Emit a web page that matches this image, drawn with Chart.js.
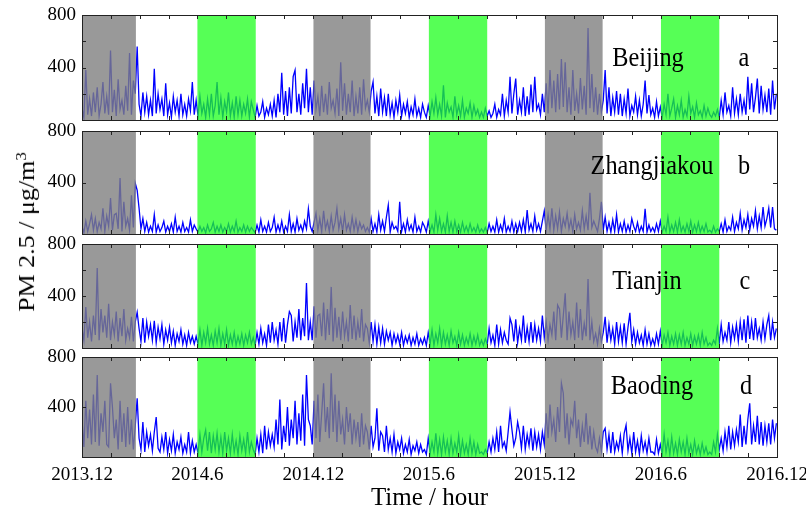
<!doctype html>
<html lang="en">
<head>
<meta charset="utf-8">
<title>PM 2.5</title>
<script src="https://cdn.jsdelivr.net/npm/chart.js@4.4.1/dist/chart.umd.min.js"></script>
<style>
body { margin: 0; background: #fff; }
#wrap { position: relative; width: 806px; height: 511px; overflow: hidden; font-family: 'Liberation Serif', 'Times New Roman', serif; color: #000; }
#wrap canvas { position: absolute; left: 0; top: 0; }
.txt { position: absolute; font-size: 27px; line-height: 1; white-space: nowrap; transform: translate(-50%, -50%) scaleX(0.9); }
#ytitle { position: absolute; left: 27px; top: 232px; font-size: 26px; line-height: 1; white-space: nowrap; transform: translate(-50%, -50%) rotate(-90deg) scaleY(0.88); }
#ytitle sup { font-size: 0.65em; line-height: 0; }
</style>
</head>
<body>
<div id="wrap">
  <canvas id="bj" width="806" height="511"></canvas>
  <canvas id="zjk" width="806" height="511"></canvas>
  <canvas id="tj" width="806" height="511"></canvas>
  <canvas id="bd" width="806" height="511"></canvas>
  <div id="ytitle">PM 2.5 / μg/m<sup>3</sup></div>
  <div class="txt" style="left:648px;top:57px">Beijing</div>
  <div class="txt" style="left:744px;top:57px">a</div>
  <div class="txt" style="left:652px;top:165px">Zhangjiakou</div>
  <div class="txt" style="left:744px;top:165px">b</div>
  <div class="txt" style="left:647px;top:280px">Tianjin</div>
  <div class="txt" style="left:745px;top:280px">c</div>
  <div class="txt" style="left:652px;top:385px">Baoding</div>
  <div class="txt" style="left:746px;top:385px">d</div>
</div>
<script>
// one value every STEP_DAYS days, starting 2013-12-01 (each row = 90 days)
var STEP_DAYS = 3;

var tickDays = [0, 182, 365, 547, 730, 913, 1096];
var tickLabels = ['2013.12', '2014.6', '2014.12', '2015.6', '2015.12', '2016.6', '2016.12'];
var yLabelValues = [400, 800];

// heating seasons (grey) and summers (green), in days
var winterBands = [[0, 85], [365, 455], [730, 821]];
var summerBands = [[182, 274], [547, 639], [913, 1005]];

var bjValues = [
  90,20,380,40,160,30,210,60,250,30,120,290,50,180,40,530,60,230,30,310,80,150,40,260,70,510,40,300,200,560,
  120,30,210,60,180,40,150,30,390,50,200,80,160,30,280,40,130,20,180,60,150,30,200,40,120,30,160,70,290,40,
  150,30,180,50,120,20,160,40,200,30,110,290,40,170,20,140,60,210,30,130,20,180,40,150,30,120,50,160,20,140,
  80,20,110,30,60,140,20,90,40,120,30,150,20,200,60,360,40,220,30,250,50,330,380,60,200,40,280,90,390,60,
  250,40,300,80,180,30,260,60,200,40,290,90,150,50,240,30,440,70,280,40,200,60,300,30,180,50,250,40,310,90,
  150,60,220,290,50,180,30,240,60,170,30,200,40,130,20,150,60,190,30,120,50,140,20,100,40,160,30,90,20,120,
  60,20,110,30,140,50,170,40,120,30,265,20,130,60,100,20,180,40,110,30,150,20,90,50,130,20,110,40,80,20,
  60,20,90,30,70,20,50,120,20,80,40,200,30,150,60,330,50,200,315,40,150,60,250,30,180,40,270,60,330,80,
  120,40,200,60,280,50,380,90,300,60,350,80,465,100,440,60,250,40,380,70,200,50,320,80,260,40,700,90,350,60,
  250,40,200,60,150,380,50,250,30,170,60,220,40,200,30,160,50,240,30,110,60,180,40,150,30,120,300,50,190,40,
  90,20,140,30,100,20,120,40,200,30,90,160,20,110,40,150,20,80,30,180,50,100,20,130,40,70,20,110,30,90,
  40,20,60,30,80,20,150,40,210,60,110,30,250,50,160,40,200,60,150,40,330,80,280,60,170,315,50,260,80,190,
  60,240,40,300,80,200
];
var zjkValues = [
  60,10,100,20,80,150,30,120,20,90,40,200,20,140,60,280,30,150,160,40,435,20,250,60,120,30,300,50,395,340,
  200,40,120,20,90,15,60,20,150,15,70,20,50,100,15,60,20,80,15,130,20,60,15,90,20,50,15,110,20,70,
  40,15,60,20,50,10,70,20,40,90,15,60,20,70,15,50,20,80,15,60,20,100,15,50,20,70,15,60,20,50,
  30,10,70,15,110,20,60,15,90,20,50,130,15,70,20,100,15,60,20,150,20,80,15,120,30,70,20,100,40,195,
  60,20,90,160,30,120,20,180,40,100,20,140,30,90,200,40,120,20,150,30,80,20,130,30,110,20,90,40,70,20,
  50,15,120,20,80,15,150,30,100,20,130,225,15,90,40,60,20,250,20,80,15,110,30,70,15,130,20,60,15,90,
  60,15,100,20,70,15,150,30,120,20,80,15,140,20,90,15,100,20,70,15,90,20,60,15,80,20,50,15,70,15,
  40,15,50,10,80,20,60,15,110,15,70,20,120,15,60,20,100,15,80,20,90,20,110,15,185,30,80,20,140,30,
  80,20,100,180,30,150,40,200,30,140,40,170,20,120,60,160,40,110,20,150,40,90,30,180,40,140,30,320,50,100,
  60,20,120,250,30,130,20,90,15,110,20,150,15,80,20,100,15,70,20,120,60,20,90,15,60,20,195,15,70,20,
  50,15,80,20,100,15,60,20,130,15,70,20,90,15,110,20,60,15,80,20,100,15,70,20,90,15,60,20,80,15,
  30,10,60,15,40,20,80,15,110,20,60,30,130,20,90,40,160,30,110,50,150,30,120,60,180,40,140,50,210,60,
  120,200,50,210,40,30
];
var tjValues = [
  150,60,315,80,200,50,250,100,615,60,300,120,250,80,340,60,200,100,280,50,230,90,300,60,150,80,240,50,200,275,
  150,50,230,40,200,90,180,60,210,40,160,70,180,30,140,60,160,40,130,20,110,50,140,30,100,20,120,40,90,30,
  90,30,140,20,120,40,150,30,100,20,130,40,150,20,110,30,140,20,100,30,120,20,90,30,110,20,100,40,120,30,
  80,20,120,30,150,40,110,20,180,40,200,60,140,30,200,50,230,40,180,280,250,50,200,80,300,60,230,90,500,60,
  200,60,320,80,250,260,90,350,60,300,100,470,50,310,80,240,60,280,90,200,50,330,70,250,60,200,80,300,50,180,
  150,40,200,50,180,30,160,40,150,30,130,60,120,20,110,40,100,30,120,20,90,40,100,20,80,30,110,20,70,30,
  80,20,120,30,140,20,110,40,150,20,120,30,100,20,130,40,90,20,120,30,100,20,80,30,110,20,90,30,100,20,
  60,20,70,30,150,40,100,20,180,30,140,40,120,60,30,230,180,50,220,40,150,60,250,40,160,50,200,40,180,60,
  150,50,250,80,200,60,180,100,280,60,330,300,80,250,420,60,280,100,200,60,350,80,300,60,190,90,530,60,200,50,
  110,30,150,50,120,240,40,180,60,150,30,200,50,160,40,190,30,160,270,50,140,30,120,40,100,20,140,30,110,20,
  70,20,110,30,130,20,100,40,120,20,90,30,110,20,100,30,120,20,80,30,110,20,90,30,100,20,120,30,80,20,
  40,20,60,30,150,40,180,50,120,60,200,40,160,70,180,50,200,60,220,40,250,70,200,60,230,80,150,60,200,70,
  180,250,60,200,80,150
];
var bdValues = [
  300,80,450,150,380,100,500,120,655,90,350,200,450,100,80,590,400,150,300,60,450,120,350,80,400,100,300,60,250,470,
  150,60,280,40,200,90,180,50,200,320,70,40,160,60,200,30,140,50,180,30,120,60,160,30,100,40,200,30,130,40,
  100,30,180,40,150,215,50,200,30,170,60,190,40,160,30,200,50,150,30,180,40,130,20,170,50,140,30,200,40,120,
  60,20,150,40,180,30,250,60,200,90,180,80,300,100,460,60,250,120,400,90,300,150,450,100,350,130,500,90,655,300,
  250,100,450,150,500,120,350,590,200,400,150,670,200,500,120,450,180,300,100,400,200,350,100,300,150,280,80,350,100,250,
  200,60,250,80,150,390,50,200,170,40,250,60,150,40,180,30,120,60,150,30,100,40,140,20,90,50,120,30,100,40,
  60,20,150,30,120,40,190,30,140,20,160,40,130,20,150,30,110,40,170,20,130,30,100,20,150,30,120,20,100,30,
  40,20,60,30,120,40,150,60,200,40,250,80,120,50,200,360,220,90,150,280,200,70,250,60,180,90,230,50,200,80,
  180,60,200,100,350,150,420,200,300,120,400,200,590,510,150,350,100,300,250,450,150,300,80,250,120,350,100,250,60,200,
  80,40,150,50,200,230,60,180,30,200,40,120,60,170,30,190,255,50,150,30,200,40,130,20,170,50,120,30,150,40,
  40,20,140,30,100,20,180,40,130,20,160,30,110,20,140,40,120,20,150,30,100,20,130,30,90,20,110,30,80,20,
  40,20,120,40,180,60,150,50,200,80,250,60,200,90,220,120,340,80,250,100,300,430,100,250,120,330,100,280,90,250,
  120,270,100,300,150,270
];

Chart.defaults.color = '#000';
Chart.defaults.font.family = "'Liberation Serif', 'Times New Roman', serif";

// seasons drawn over the line, then box and inward ticks
var decor = {
  id: 'decor',
  afterDatasetsDraw: function(chart) {
    var ctx = chart.ctx, a = chart.chartArea, x = chart.scales.x;
    ctx.save();
    ctx.beginPath(); ctx.rect(a.left, a.top, a.width, a.height); ctx.clip();
    function band(b, col) {
      var x0 = x.getPixelForValue(b[0]), x1 = x.getPixelForValue(b[1]);
      ctx.fillStyle = col;
      ctx.fillRect(x0, a.top, x1 - x0, a.height);
    }
    winterBands.forEach(function(b) { band(b, 'rgba(128,128,128,0.8)'); });
    summerBands.forEach(function(b) { band(b, 'rgba(30,255,30,0.75)'); });
    ctx.restore();
  },
  afterDraw: function(chart) {
    var ctx = chart.ctx, a = chart.chartArea, x = chart.scales.x, y = chart.scales.y;
    ctx.save();
    ctx.strokeStyle = '#222'; ctx.lineWidth = 1;
    ctx.beginPath();
    for (var i = 0; i < tickDays.length - 1; i++) {
      for (var k = 0; k < 4; k++) {
        var px = Math.round(x.getPixelForValue(tickDays[i] + (tickDays[i + 1] - tickDays[i]) * k / 4)) + 0.5;
        ctx.moveTo(px, a.top); ctx.lineTo(px, a.top + 4);
        ctx.moveTo(px, a.bottom); ctx.lineTo(px, a.bottom - 4);
      }
    }
    y.ticks.forEach(function(t) {
      var py = Math.round(y.getPixelForValue(t.value)) + 0.5;
      ctx.moveTo(a.left, py); ctx.lineTo(a.left + 4, py);
      ctx.moveTo(a.right, py); ctx.lineTo(a.right - 4, py);
    });
    ctx.stroke();
    ctx.strokeRect(Math.round(a.left) + 0.5, Math.round(a.top) + 0.5, Math.round(a.width), Math.round(a.height));
    ctx.restore();
  }
};

function makePanel(id, values, top, bottom, isLast) {
  var pts = values.map(function(v, i) { return {x: i * STEP_DAYS, y: v}; });
  return new Chart(document.getElementById(id), {
    type: 'line',
    data: { datasets: [{ data: pts, borderColor: 'rgb(0,0,255)', borderWidth: 1.3, pointRadius: 0, tension: 0 }] },
    options: {
      responsive: false,
      animation: false,
      layout: { padding: { top: top, bottom: isLast ? 0 : 511 - bottom, left: 0, right: 29 } },
      plugins: { legend: { display: false }, tooltip: { enabled: false } },
      scales: {
        x: {
          type: 'linear', min: 0, max: 1096, display: isLast,
          afterBuildTicks: function(s) { s.ticks = tickDays.map(function(v) { return {value: v}; }); },
          ticks: {
            autoSkip: false, maxRotation: 0, padding: 7, font: { size: 19 },
            callback: function(v) { return tickLabels[tickDays.indexOf(v)]; }
          },
          grid: { display: false, drawTicks: false },
          border: { display: false },
          title: { display: isLast, text: 'Time / hour', font: { size: 25, lineHeight: 1 }, padding: 0 },
          afterFit: function(s) { s.height = isLast ? 511 - bottom : 0; s.paddingLeft = 0; s.paddingRight = 0; }
        },
        y: {
          min: 0, max: 800,
          ticks: {
            stepSize: 200, padding: 6, font: { size: 19 },
            callback: function(v) { return yLabelValues.indexOf(v) >= 0 ? v : ''; }
          },
          grid: { display: false, drawTicks: false },
          border: { display: false },
          afterFit: function(s) { s.width = 82; s.paddingTop = 0; s.paddingBottom = 0; }
        }
      }
    },
    plugins: [decor]
  });
}

makePanel('bj', bjValues, 15, 120, false);
makePanel('zjk', zjkValues, 131, 234, false);
makePanel('tj', tjValues, 244, 348, false);
makePanel('bd', bdValues, 357, 457, true);
</script>
</body>
</html>
